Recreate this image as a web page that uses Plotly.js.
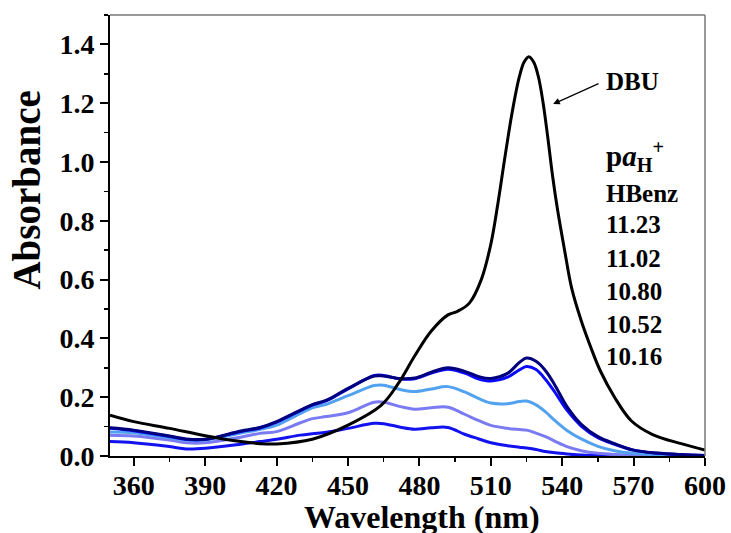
<!DOCTYPE html>
<html>
<head>
<meta charset="utf-8">
<script src="https://cdn.plot.ly/plotly-3.0.1.min.js"></script>
<style>html,body{margin:0;padding:0;background:#fff;}#chart{width:731px;height:533px;}</style>
</head>
<body>
<div id="chart"></div>
<script>
// Wavelength grid for the protonated-base series (nm)
const wlBlue = [350,360,375,382,390,405,413,420,430,435,441,450,461,465,472,478,485,492,499,505,510,517,522,525,529,533,537,542,548,555,562,570,580,590,600];
const abs1123 = [0.096,0.088,0.068,0.058,0.057,0.085,0.097,0.117,0.156,0.175,0.190,0.230,0.272,0.272,0.263,0.265,0.285,0.300,0.288,0.270,0.264,0.281,0.318,0.333,0.322,0.290,0.240,0.168,0.108,0.066,0.042,0.020,0.010,0.005,0.002];
const abs1102 = [0.094,0.086,0.066,0.056,0.056,0.083,0.095,0.115,0.154,0.173,0.188,0.228,0.274,0.274,0.262,0.263,0.282,0.295,0.282,0.262,0.255,0.268,0.293,0.304,0.294,0.260,0.216,0.156,0.102,0.062,0.040,0.020,0.009,0.004,0.002];
const abs1080 = [0.082,0.079,0.062,0.054,0.054,0.078,0.090,0.105,0.145,0.164,0.176,0.205,0.240,0.241,0.226,0.219,0.228,0.236,0.218,0.195,0.180,0.178,0.185,0.187,0.174,0.150,0.120,0.087,0.058,0.033,0.018,0.009,0.004,0.002,0.001];
const abs1052 = [0.071,0.068,0.054,0.045,0.045,0.064,0.077,0.083,0.113,0.127,0.134,0.147,0.183,0.183,0.168,0.159,0.164,0.166,0.142,0.120,0.104,0.094,0.090,0.088,0.078,0.066,0.050,0.032,0.018,0.009,0.005,0.003,0.001,0.001,0.000];
const abs1016 = [0.049,0.045,0.032,0.024,0.026,0.040,0.049,0.057,0.071,0.076,0.081,0.094,0.111,0.110,0.098,0.091,0.096,0.097,0.074,0.058,0.045,0.035,0.030,0.027,0.022,0.015,0.011,0.007,0.003,0.002,0.001,0.000,0.000,0.000,0.000];
// DBU series
const wlDBU = [350,360,375,390,405,413,420,435,450,464,471,478,485,492,496,501,506,510,513,516,519,522,524,526,528,530,532,534,536,538,541,544,548,552,556,562,569,578,590,600];
const absDBU = [0.139,0.117,0.094,0.069,0.049,0.042,0.041,0.057,0.105,0.173,0.245,0.340,0.425,0.480,0.492,0.520,0.600,0.720,0.860,1.020,1.170,1.290,1.340,1.358,1.340,1.290,1.200,1.080,0.950,0.840,0.700,0.570,0.460,0.370,0.290,0.200,0.120,0.073,0.042,0.020];

const seriesNames = ['10.16','10.52','10.80','11.02','11.23','DBU'];
const seriesColors = ['#1212EE','#7A7AF2','#52A2F0','#0A0AFF','#00007E','#000000'];
const xTickVals = [360,390,420,450,480,510,540,570,600];
const yTickVals = [0,0.2,0.4,0.6,0.8,1.0,1.2,1.4];
const legendLines = ['p<i>a</i><sub>H</sub><sup>+</sup>','HBenz','11.23','11.02','10.80','10.52','10.16'];

const seriesY = [abs1016,abs1052,abs1080,abs1102,abs1123,absDBU];
const traces = seriesY.map((ys,i)=>({
  x: i===5 ? wlDBU : wlBlue,
  y: ys,
  name: seriesNames[i],
  type:'scatter', mode:'lines',
  line:{color:seriesColors[i], width:3, shape:'spline', smoothing:1},
  hoverinfo:'skip'
}));

const fam = '"Liberation Serif","Times New Roman",serif';
const bold = {family:fam, weight:'bold', color:'#000'};

const L = 109.5, T = 15, R = 705, B = 456;
const W = R-L, H = B-T;
const px2paperX = p => (p-L)/W;
const py2paperY = p => (B-p)/H;

const annotations = [];
// DBU label
annotations.push({xref:'paper',yref:'paper',x:px2paperX(604),y:py2paperY(81),xanchor:'left',yanchor:'middle',
  text:'DBU',showarrow:false,font:Object.assign({size:25},bold)});
// arrow
annotations.push({xref:'x',yref:'y',x:536.2,y:1.197,axref:'x',ayref:'y',ax:555.9,ay:1.269,
  text:'',showarrow:true,arrowhead:2,arrowsize:1.1,arrowwidth:1.2,arrowcolor:'#000',standoff:0,startstandoff:0});
// legend text lines
const baselines = [165,202,233,267,300,333,365];
legendLines.forEach((t,i)=>{
  annotations.push({xref:'paper',yref:'paper',x:px2paperX(604),y:py2paperY(baselines[i]-9),xanchor:'left',yanchor:'middle',
    text:t,showarrow:false,font:Object.assign({size: i===0?29:25},bold)});
});
// y title
annotations.push({xref:'paper',yref:'paper',x:px2paperX(25),y:py2paperY(190),xanchor:'center',yanchor:'middle',
  text:'Absorbance',textangle:-90,showarrow:false,font:Object.assign({size:39},bold)});
// x title
annotations.push({xref:'paper',yref:'paper',x:px2paperX(422),y:py2paperY(517),xanchor:'center',yanchor:'middle',
  text:'Wavelength (nm)',showarrow:false,font:Object.assign({size:32},bold)});

const layout = {
  width:731, height:533,
  margin:{l:L, r:731-R, t:T, b:533-B, pad:0},
  paper_bgcolor:'#fff', plot_bgcolor:'#fff',
  showlegend:false,
  xaxis:{range:[350,600], tickvals:xTickVals, ticktext:xTickVals.map(String),
    ticks:'outside', ticklen:8, tickwidth:2, tickcolor:'#000', ticklabelstandoff:-5,
    minor:{dtick:15, tick0:345, ticks:'outside', ticklen:4, tickwidth:1.5, tickcolor:'#000'},
    showline:true, linewidth:2, linecolor:'#000', showgrid:false, zeroline:false,
    tickfont:Object.assign({size:28},bold)},
  yaxis:{range:[0,1.5], tickvals:yTickVals, ticktext:yTickVals.map(v=>v.toFixed(1)),
    ticks:'outside', ticklen:8, tickwidth:2, tickcolor:'#000',
    minor:{dtick:0.1, tick0:0, ticks:'outside', ticklen:4, tickwidth:1.5, tickcolor:'#000'},
    showline:true, linewidth:2, linecolor:'#000', showgrid:false, zeroline:false,
    tickfont:Object.assign({size:28},bold)},
  shapes:[
    {type:'line',xref:'paper',yref:'paper',x0:0,x1:1,y0:1,y1:1,line:{color:'#777',width:1.5}},
    {type:'line',xref:'paper',yref:'paper',x0:1,x1:1,y0:0,y1:1,line:{color:'#777',width:1.5}}
  ],
  annotations: annotations
};

Plotly.newPlot('chart', traces, layout, {staticPlot:true, displayModeBar:false});
</script>
</body>
</html>
